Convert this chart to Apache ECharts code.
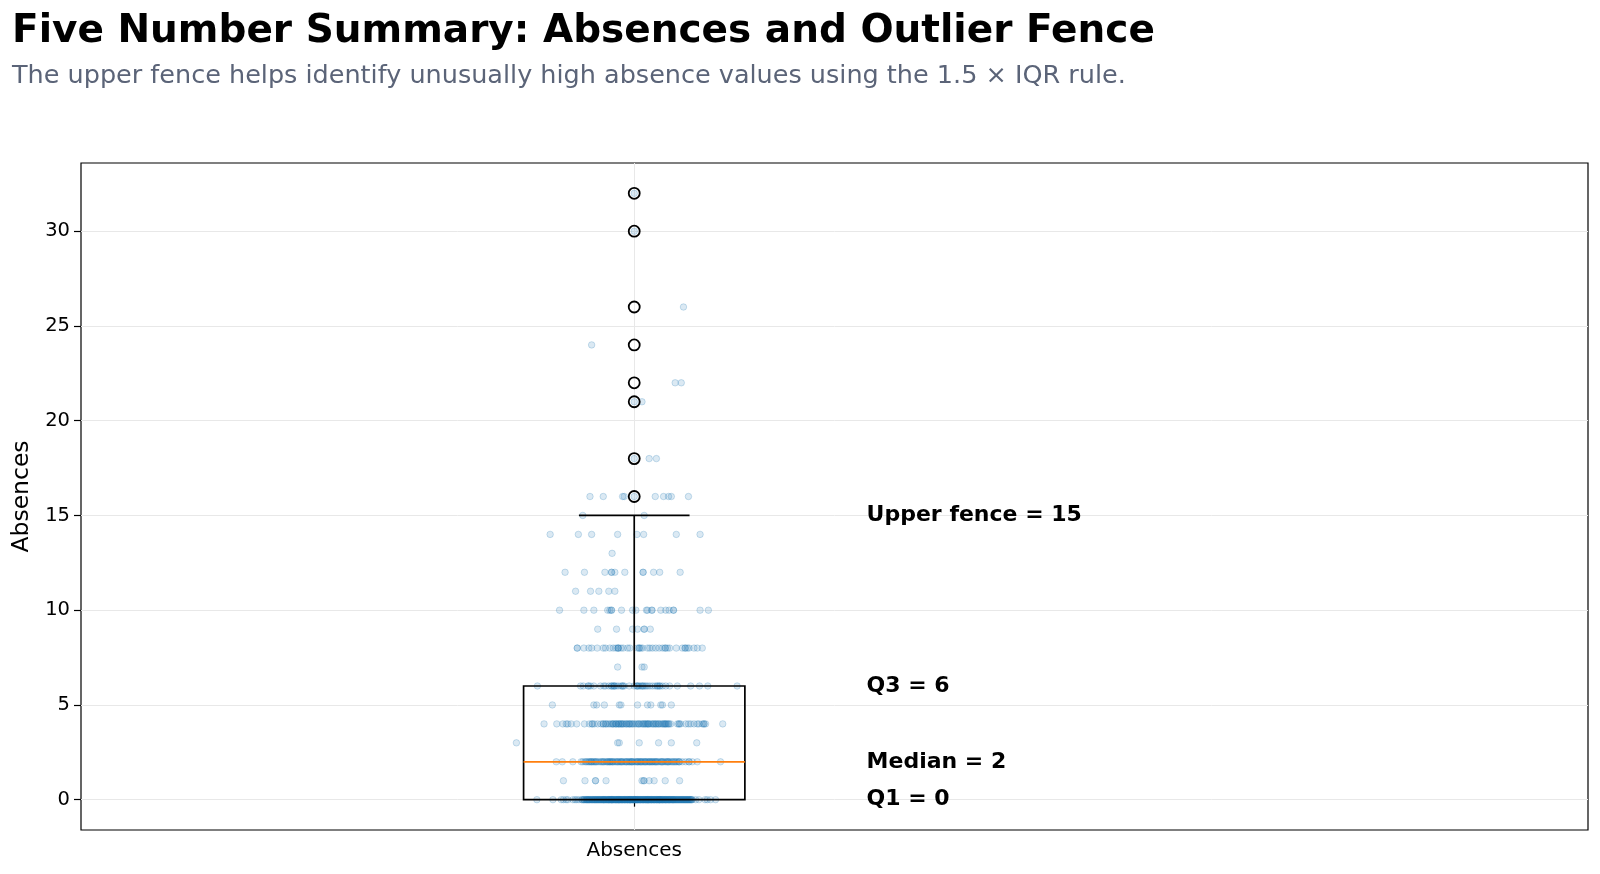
<!DOCTYPE html>
<html>
<head>
<meta charset="utf-8">
<title>Five Number Summary: Absences and Outlier Fence</title>
<script src="https://cdn.jsdelivr.net/npm/echarts@6.0.0/dist/echarts.min.js"></script>
<style>
  html, body { margin: 0; padding: 0; background: #fff; }
  #chart { width: 1600px; height: 874px; }
</style>
</head>
<body>
<div id="chart"></div>
<script>
// absence values that occur, and the horizontal jitter of each student's dot at that value
// (jitter in thousandths of a box position)
const levels = [0, 1, 2, 3, 4, 5, 6, 7, 8, 9, 10, 11, 12, 13, 14, 15, 16, 18, 21, 22, 24, 26, 30, 32];
const jitter = [
  [-176,-147,-132,-128,-123,-120,-111,-107,-104,-100,
   -95,-94,-92,-91,-90,-88,-87,-86,-85,-83,-82,-81,-80,-79,-77,-76,-76,-74,-73,-72,
   -71,-70,-69,-67,-66,-65,-64,-63,-62,-61,-60,-59,-58,-57,-56,-55,-55,-54,-53,-52,
   -51,-50,-49,-48,-47,-46,-46,-45,-44,-43,-42,-41,-40,-40,-39,-38,-37,-36,-35,-34,
   -33,-33,-32,-31,-30,-29,-28,-27,-27,-26,-25,-24,-23,-22,-22,-21,-20,-19,-18,-17,
   -17,-16,-15,-14,-13,-12,-12,-11,-10,-9,-8,-7,-7,-6,-5,-4,-3,-2,-2,-1,
   0,1,1,2,3,4,5,6,6,7,8,9,10,11,11,12,13,14,15,16,
   16,17,18,19,20,21,21,22,23,24,25,26,26,27,28,29,30,31,31,32,
   33,34,35,36,36,37,38,39,40,41,41,42,43,44,45,46,46,47,48,49,
   50,51,51,52,53,54,55,56,57,57,58,59,60,61,62,63,63,64,65,66,
   67,68,69,70,70,71,72,73,74,75,76,77,78,79,80,81,82,83,84,85,
   86,87,88,89,90,91,92,93,94,95,96,97,98,99,100,101,102,103,104,105,
   -84,-68,-41,-29,-8,3,24,45,
   111,117,128,132,138,147],
  [-128,-89,-70,-70,-51,14,17,18,27,36,56,82],
  [-141,-130,-111,-96,-93,-89,-87,-85,-81,-78,-78,-76,-74,-72,-69,-67,-64,-61,-59,-57,
   -54,-51,-49,-46,-44,-44,-42,-40,-38,-35,-33,-30,-28,-26,-24,-22,-20,-17,-15,-13,
   -10,-9,-7,-4,-4,-2,1,3,5,7,9,11,13,15,17,19,21,23,25,27,
   29,32,32,34,36,38,40,42,44,47,49,51,53,56,58,60,62,64,67,69,
   71,75,77,80,82,87,93,99,99,105,114,156,
   -82,-70,-56,-48,-39,-31,-23,-14,-5,6,12,20,28,39,50,61,73,81],
  [-213,-30,-27,9,44,67,113],
  [-163,-140,-129,-123,-120,-114,-104,-90,-81,-76,-76,-72,-66,-60,-56,-56,-52,-48,-45,-42,
   -39,-39,-37,-34,-32,-29,-27,-24,-21,-21,-18,-15,-12,-9,-9,-7,-4,0,3,6,
   9,12,15,18,21,24,24,27,30,33,36,39,39,42,45,48,51,54,56,56,
   58,60,63,66,78,81,81,84,93,98,102,108,114,117,123,126,126,129,160,-51,
   -33,-24,-14,-3,8,16,26,34,44,52,62,-28,20],
  [-148,-73,-68,-54,-27,-24,6,24,30,48,51,67],
  [-175,-97,-92,-83,-83,-79,-73,-61,-55,-52,-46,-41,-41,-38,-36,-36,-33,-29,-24,-21,
   -21,-18,-9,0,4,6,6,9,12,15,15,18,21,24,28,33,38,42,42,46,
   46,51,57,64,78,102,118,133,186],
  [-30,14,18],
  [-103,-103,-91,-82,-77,-67,-56,-52,-44,-38,-33,-29,-29,-29,-24,-20,-12,-8,6,9,
   9,12,15,24,28,33,39,45,51,56,56,60,64,76,87,92,92,96,99,108,114,123],
  [-66,-32,-3,6,18,18,29],
  [-135,-91,-73,-48,-41,-41,-23,-3,3,22,32,32,48,57,63,71,71,119,134,-44,24],
  [-106,-79,-64,-46,-35],
  [-125,-90,-53,-41,-41,-35,-17,16,16,35,46,83],
  [-40],
  [-152,-101,-77,-30,5,17,76,119],
  [-93,18],
  [-80,-56,-21,-18,0,38,53,62,67,98],
  [0,27,40],
  [0,14],
  [74,85],
  [-77],
  [89],
  [0],
  [0]
];

// five number summary (Q1, median, Q3, lower whisker, upper whisker = fence)
const boxStats = [0, 2, 6, 0, 15];
const outliers = [16, 18, 21, 22, 24, 26, 30, 32];
const statNames = ['Upper fence', 'Q3', 'Median', 'Q1'];
const statValues = [15, 6, 2, 0];
const yTicks = [0, 5, 10, 15, 20, 25, 30];

const boxPos = 1;
const points = [];
levels.forEach((v, i) => {
  jitter[i].forEach(j => points.push([boxPos + j / 1000, v]));
});

const font = 'DejaVu Sans';
const chart = echarts.init(document.getElementById('chart'));

const option = {
  backgroundColor: '#fff',
  animation: false,
  title: [
    {
      text: 'Five Number Summary: Absences and Outlier Fence',
      left: 7, top: 7,
      textStyle: { fontFamily: font, fontWeight: 'bold', fontSize: 39, color: '#000' }
    },
    {
      text: 'The upper fence helps identify unusually high absence values using the 1.5 × IQR rule.',
      left: 7, top: 58,
      textStyle: { fontFamily: font, fontWeight: 'normal', fontSize: 25.5, color: '#5b6478' }
    }
  ],
  grid: {
    left: 81, right: 12, top: 163, bottom: 44,
    show: true, borderColor: '#000', borderWidth: 1.2, backgroundColor: 'transparent'
  },
  xAxis: {
    type: 'value',
    min: 0, max: 2.724,
    axisLine: { show: false },
    axisTick: { customValues: [boxPos], length: 7, lineStyle: { color: '#000', width: 1.2 } },
    axisLabel: {
      customValues: [boxPos], margin: 11,
      fontFamily: font, fontSize: 20, color: '#000',
      formatter: () => 'Absences'
    },
    splitLine: { show: true, lineStyle: { color: '#e8e8e8', width: 1 } }
  },
  yAxis: {
    type: 'value',
    min: -1.6, max: 33.6,
    name: 'Absences', nameLocation: 'middle', nameGap: 44,
    nameTextStyle: { fontFamily: font, fontSize: 23.5, color: '#000' },
    axisLine: { show: false },
    axisTick: { customValues: yTicks, length: 7, lineStyle: { color: '#000', width: 1.2 } },
    axisLabel: { customValues: yTicks, margin: 11, fontFamily: font, fontSize: 19.5, color: '#000' },
    splitLine: { show: true, lineStyle: { color: '#e8e8e8', width: 1 } }
  },
  series: [
    {
      type: 'scatter',
      data: points,
      symbol: 'circle',
      symbolSize: 6.5,
      z: 2,
      itemStyle: {
        color: 'rgba(31,119,180,0.2)',
        borderColor: 'rgba(31,119,180,0.28)',
        borderWidth: 1
      }
    },
    {
      type: 'custom',
      z: 3,
      data: [[boxPos].concat(boxStats)],
      encode: { x: 0, y: [1, 2, 3, 4, 5] },
      renderItem: function (params, api) {
        const x = api.value(0);
        const q1 = api.value(1), med = api.value(2), q3 = api.value(3);
        const lo = api.value(4), hi = api.value(5);
        const half = 0.2, capHalf = 0.1;
        const line = (a, b, color) => ({
          type: 'line',
          shape: { x1: a[0], y1: a[1], x2: b[0], y2: b[1] },
          style: { stroke: color, lineWidth: 1.7 }
        });
        const tl = api.coord([x - half, q3]);
        const br = api.coord([x + half, q1]);
        const parts = [
          line(api.coord([x, q3]), api.coord([x, hi]), '#000'),
          line(api.coord([x - capHalf, hi]), api.coord([x + capHalf, hi]), '#000')
        ];
        if (lo < q1) {
          parts.push(line(api.coord([x, q1]), api.coord([x, lo]), '#000'));
          parts.push(line(api.coord([x - capHalf, lo]), api.coord([x + capHalf, lo]), '#000'));
        }
        parts.push({
          type: 'rect',
          shape: { x: tl[0], y: tl[1], width: br[0] - tl[0], height: br[1] - tl[1] },
          style: { fill: 'none', stroke: '#000', lineWidth: 1.7 }
        });
        parts.push(line(api.coord([x - half, med]), api.coord([x + half, med]), '#ff7f0e'));
        return { type: 'group', children: parts };
      }
    },
    {
      type: 'scatter',
      z: 4,
      data: outliers.map(v => [boxPos, v]),
      symbol: 'circle',
      symbolSize: 11,
      itemStyle: { color: 'rgba(0,0,0,0)', borderColor: '#000', borderWidth: 1.8, opacity: 1 }
    },
    {
      type: 'scatter',
      z: 5,
      symbolSize: 0,
      silent: true,
      data: statValues.map((v, i) => ({ value: [1.42, v], name: statNames[i] })),
      label: {
        show: true, position: 'right', distance: 0,
        fontFamily: font, fontWeight: 'bold', fontSize: 22, color: '#000',
        opacity: 1, textBorderWidth: 0,
        formatter: p => p.name + ' = ' + p.value[1]
      },
      itemStyle: { opacity: 1 }
    }
  ]
};

chart.setOption(option);
</script>
</body>
</html>
